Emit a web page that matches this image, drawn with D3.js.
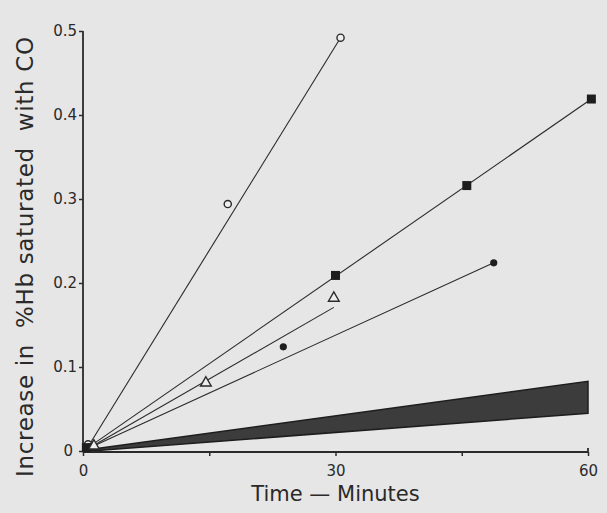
<!DOCTYPE html>
<html>
<head>
<meta charset="utf-8">
<script src="https://cdn.jsdelivr.net/npm/d3@7"></script>
<style>
  body { margin: 0; background: #e6e6e6; }
  svg { display: block; }
</style>
</head>
<body>
<div class="canvas"></div>
<script>
// tick labels
const xTicks = [0, 30, 60];
const xMinorTicks = [15, 45];
const yTicks = [0, 0.1, 0.2, 0.3, 0.4, 0.5];

// open circles
const openCircleTime = [0.6, 17.2, 30.6];
const openCircleValue = [0.008, 0.294, 0.492];
// filled squares
const squareTime = [0.4, 30, 45.6, 60.4];
const squareValue = [0.004, 0.209, 0.316, 0.419];
// filled circles
const dotTime = [0.8, 23.8, 48.8];
const dotValue = [0.005, 0.124, 0.224];
// open triangles
const triTime = [1.3, 14.6, 29.8];
const triValue = [0.006, 0.081, 0.182];

// fitted lines: [start time, start value, end time, end value]
const fitOpenCircle = [0.6, 0.005, 30.6, 0.492];
const fitSquare = [0.6, 0.004, 60.4, 0.419];
const fitDot = [0.8, 0.004, 48.8, 0.224];
const fitTri = [1.0, 0.005, 29.8, 0.171];

// shaded band (upper and lower edges)
const bandTime = [1.0, 60];
const bandUpper = [0.002, 0.083];
const bandLower = [0.0, 0.045];

const dims = { width: 607, height: 513 };

const svg = d3.select('.canvas')
  .append('svg')
  .attr('width', dims.width)
  .attr('height', dims.height);

const x = d3.scaleLinear().domain([0, 60]).range([83, 588]);
const y = d3.scaleLinear().domain([0, 0.5]).range([451, 31]);

const ink = '#2a2a2a';
const font = 'DejaVu Sans';

// band
const bandPts = bandTime.map((t, i) => [x(t), y(bandUpper[i])])
  .concat(bandTime.slice().reverse().map((t, i) => [x(t), y(bandLower[bandTime.length - 1 - i])]));
svg.append('polygon')
  .attr('points', bandPts.map(p => p.join(',')).join(' '))
  .attr('fill', '#3c3c3c')
  .attr('stroke', '#1e1e1e')
  .attr('stroke-width', 1.5);

// fitted lines
[fitOpenCircle, fitSquare, fitDot, fitTri].forEach(f => {
  svg.append('line')
    .attr('x1', x(f[0])).attr('y1', y(f[1]))
    .attr('x2', x(f[2])).attr('y2', y(f[3]))
    .attr('stroke', ink)
    .attr('stroke-width', 1.1);
});

// axes
const xAxis = d3.axisBottom(x)
  .tickValues(xTicks.concat(xMinorTicks))
  .tickSize(4)
  .tickFormat(d => xTicks.includes(d) ? d : '');
const gx = svg.append('g')
  .attr('transform', `translate(0, ${y(0) + 1})`)
  .call(xAxis);
gx.select('.domain').attr('d', `M${x(0)},0H${x(60)}V-4`).attr('stroke', ink).attr('stroke-width', 1.8);
gx.selectAll('.tick line').attr('stroke', ink).attr('stroke-width', 1.5);
gx.selectAll('.tick text')
  .attr('font-family', font).attr('font-size', 15).attr('fill', ink).attr('dy', '1.1em');

const yAxis = d3.axisLeft(y)
  .tickValues(yTicks)
  .tickSize(4)
  .tickFormat(d => d === 0 ? '0' : d3.format('.1f')(d));
const gy = svg.append('g')
  .attr('transform', `translate(${x(0)}, 0)`)
  .call(yAxis);
gy.select('.domain').attr('d', `M0,${y(0.5)}V${y(0) + 1}`).attr('stroke', ink).attr('stroke-width', 1.8);
gy.selectAll('.tick line').attr('stroke', ink).attr('stroke-width', 1.5);
gy.selectAll('.tick text')
  .attr('font-family', font).attr('font-size', 15).attr('fill', ink).attr('x', -6);
gy.selectAll('.tick').filter(d => d === 0).select('text').attr('x', -10);

// markers
svg.selectAll('.oc').data(openCircleTime).enter().append('circle')
  .attr('cx', d => x(d)).attr('cy', (d, i) => y(openCircleValue[i]))
  .attr('r', 3.6).attr('fill', '#eee').attr('stroke', ink).attr('stroke-width', 1.4);

svg.selectAll('.sq').data(squareTime).enter().append('rect')
  .attr('x', d => x(d) - 4.5).attr('y', (d, i) => y(squareValue[i]) - 4.5)
  .attr('width', 9).attr('height', 9).attr('fill', '#1e1e1e');

svg.selectAll('.dot').data(dotTime).enter().append('circle')
  .attr('cx', d => x(d)).attr('cy', (d, i) => y(dotValue[i]))
  .attr('r', 3.6).attr('fill', '#1e1e1e');

const tri = d3.symbol().type(d3.symbolTriangle).size(50);
svg.selectAll('.tri').data(triTime).enter().append('path')
  .attr('d', tri)
  .attr('transform', (d, i) => `translate(${x(d)}, ${y(triValue[i])})`)
  .attr('fill', '#eee').attr('stroke', ink).attr('stroke-width', 1.4);

// axis titles
svg.append('text')
  .attr('transform', `translate(33, 257) rotate(-90)`)
  .attr('text-anchor', 'middle')
  .attr('font-family', font).attr('font-size', 23).attr('fill', ink)
  .attr('xml:space', 'preserve')
  .attr('textLength', 440).attr('lengthAdjust', 'spacing')
  .text('Increase in  %Hb saturated  with CO');

svg.append('text')
  .attr('x', x(30)).attr('y', 501)
  .attr('text-anchor', 'middle')
  .attr('font-family', font).attr('font-size', 21).attr('fill', ink)
  .attr('xml:space', 'preserve')
  .text('Time — Minutes');
</script>
</body>
</html>
